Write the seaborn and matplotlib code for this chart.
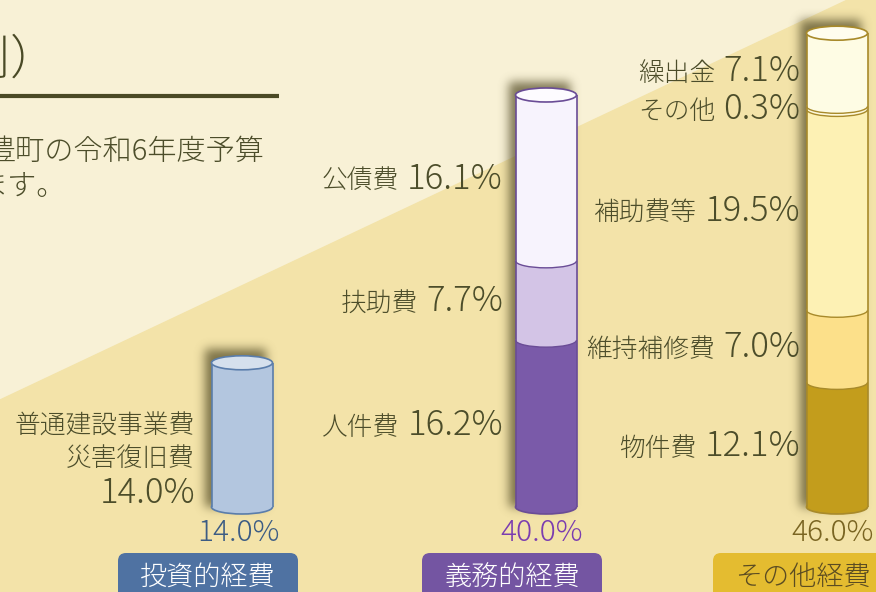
import numpy as np
import pandas as pd
import matplotlib
matplotlib.use("Agg")
import matplotlib.pyplot as plt
import seaborn as sns
from matplotlib.patches import Ellipse, Arc, FancyBboxPatch, Polygon

# 性質別の歳出構成比（%）
groups = ["投資的経費", "義務的経費", "その他経費"]
group_totals = [14.0, 40.0, 46.0]
invest_items = ["普通建設事業費\n災害復旧費"]
invest_values = [14.0]
oblig_items = ["人件費", "扶助費", "公債費"]
oblig_values = [16.2, 7.7, 16.1]
other_items = ["物件費", "維持補修費", "補助費等", "その他", "繰出金"]
other_values = [12.1, 7.0, 19.5, 0.3, 7.1]

W, H = 876, 592
PX_PER_PCT = 10.3   # 1% の高さ (px)
BASE_PX = 507       # 円柱の底の位置 (px)
CYL_W = 61
ELL_H = 14 / PX_PER_PCT

styles = {
    "投資的経費": dict(x=242, colors=["#B3C6DF"], cap="#D5E0ED", edge="#5A7DAB",
                   total_color="#3C5C84", badge="#4F72A2", badge_text="white", label_right=195),
    "義務的経費": dict(x=546, colors=["#7A5AA9", "#D3C4E6", "#F7F3FD"], cap="#FDFBFF", edge="#6A4C96",
                   total_color="#7B3DB0", badge="#7455A2", badge_text="white", label_right=503),
    "その他経費": dict(x=837, colors=["#C39D1C", "#FCE08A", "#FDF1B4", "#FEF9DC", "#FEFCE4"], cap="#FFFDEE",
                   edge="#A88A2A", total_color="#7A6522", badge="#E4BC30", badge_text="#5B4C22", label_right=800),
}
TEXT = "#4C4D2A"

rows = []
for g, items, vals in zip(groups, [invest_items, oblig_items, other_items],
                          [invest_values, oblig_values, other_values]):
    cum = np.cumsum(vals)
    for i, (it, v) in enumerate(zip(items, vals)):
        rows.append(dict(group=g, item=it, value=v, bottom=cum[i] - v, top=cum[i], level=i,
                         x=styles[g]["x"], color=styles[g]["colors"][i]))
df = pd.DataFrame(rows)


def to_px(y):
    return BASE_PX - y * PX_PER_PCT


sns.set_style("white")
plt.rcParams["font.family"] = ["Noto Sans CJK JP", "DejaVu Sans"]
plt.rcParams["font.weight"] = "light"

fig = plt.figure(figsize=(W / 100, H / 100), dpi=100)
bg = fig.add_axes([0, 0, 1, 1])
ax = fig.add_axes([0, 0, 1, 1], zorder=2)
ax.patch.set_alpha(0)

# 背景
bg.add_patch(Polygon([(0, 0), (W, 0), (W, H), (0, H)], closed=True, color="#F8F1D6", zorder=0))
bg.add_patch(Polygon([(0, 400), (W, 400 - 0.472 * W), (W, H), (0, H)], closed=True, color="#F3E3A9", zorder=0.1))

# 円柱の影
mask = np.zeros((H, W))
for g, tot in zip(groups, group_totals):
    x = styles[g]["x"]
    x0, x1 = int(x - CYL_W / 2 - 6), int(x + CYL_W / 2 - 6)
    y0, y1 = int(to_px(tot) - 7 - 6), int(to_px(0))
    mask[max(y0, 0):y1, max(x0, 0):x1] = 1.0
sig = 5
k = np.arange(-3 * sig, 3 * sig + 1)
kern = np.exp(-k ** 2 / (2 * sig ** 2))
kern /= kern.sum()
blur = np.zeros_like(mask)
for off, w in zip(k, kern):
    blur += w * np.roll(mask, off, axis=1)
blur2 = np.zeros_like(blur)
for off, w in zip(k, kern):
    blur2 += w * np.roll(blur, off, axis=0)
rgba = np.zeros((H, W, 4))
rgba[..., 0], rgba[..., 1], rgba[..., 2] = 0.33, 0.30, 0.15
rgba[..., 3] = blur2 * 0.75
bg.imshow(rgba, extent=(0, W, H, 0), aspect="auto", zorder=1, interpolation="bilinear")

# 見出しと説明文
bg.text(58, 60, "（性質別）", ha="right", va="center", fontsize=34, color="#4A4A26", zorder=3)
bg.plot([0, 279], [96, 96], color="#4B4A25", lw=3, solid_capstyle="butt", zorder=3)
bg.text(264, 152, "豊町の令和6年度予算", ha="right", va="center", fontsize=21, color=TEXT, zorder=3)
bg.text(66, 187, "ます。", ha="right", va="center", fontsize=21, color=TEXT, zorder=3)

# ラベルの札
for g in groups:
    s = styles[g]
    bg.add_patch(FancyBboxPatch((s["x"] - 124, 553), 180, 60, boxstyle="round,pad=0,rounding_size=8",
                                fc=s["badge"], ec="none", zorder=3))
    bg.text(s["x"] - 34, 577, g, ha="center", va="center", fontsize=19.5, color=s["badge_text"], zorder=4)

bg.set_xlim(0, W)
bg.set_ylim(H, 0)
bg.axis("off")

# 円柱本体（上の区分から順に重ねる）
order = df["item"].tolist()[::-1]
palette = dict(zip(df["item"], df["color"]))
xs = sorted(df["x"].unique())
sns.barplot(data=df, x="x", y="top", hue="item", hue_order=order, palette=palette,
            native_scale=True, dodge=False, width=CYL_W / np.diff(xs).min(), errorbar=None,
            legend=False, saturation=1, linewidth=0, orient="x", ax=ax)

for g, tot in zip(groups, group_totals):
    s = styles[g]
    sub = df[df["group"] == g]
    x = s["x"]
    # 底
    ax.add_patch(Ellipse((x, 0), CYL_W, ELL_H, fc=sub["color"].iloc[0], ec=s["edge"], lw=1.2, zorder=0.9))
    # 区分の境目
    for _, r in sub.iloc[1:].iterrows():
        ax.add_patch(Ellipse((x, r["bottom"]), CYL_W, ELL_H, fc=r["color"], ec="none", zorder=2))
        ax.add_patch(Arc((x, r["bottom"]), CYL_W, ELL_H, theta1=180, theta2=360, ec=s["edge"], lw=1.0, zorder=3))
    ax.vlines([x - CYL_W / 2, x + CYL_W / 2], 0, tot, color=s["edge"], lw=1.2, zorder=3)
    # 上面
    ax.add_patch(Ellipse((x, tot), CYL_W, ELL_H, fc=s["cap"], ec=s["edge"], lw=1.2, zorder=4))
    # 合計
    ax.annotate(f"{tot:.1f}%", (x - 4, 0), xytext=(0, -26), textcoords="offset pixels",
                ha="center", va="center", fontsize=21.5, color=s["total_color"])

ax.set_xlim(0, W)
ax.set_ylim((BASE_PX - H) / PX_PER_PCT, BASE_PX / PX_PER_PCT)
ax.axis("off")

# 区分ラベル
renderer = fig.canvas.get_renderer()
for _, r in df.iterrows():
    s = styles[r["group"]]
    mid = r["bottom"] + r["value"] / 2
    num = f"{r['value']:.1f}%"
    if "\n" in r["item"]:
        lines = r["item"].split("\n")
        ax.annotate(num, (s["label_right"], mid), xytext=(0, -58), textcoords="offset pixels",
                    ha="right", va="center", fontsize=25, color=TEXT)
        for j, ln in enumerate(lines):
            ax.annotate(ln, (s["label_right"], mid), xytext=(0, 8 - 32 * j), textcoords="offset pixels",
                        ha="right", va="center", fontsize=18.5, color=TEXT)
        continue
    t = ax.annotate(num, (s["label_right"], mid), xytext=(0, -11), textcoords="offset pixels",
                    ha="right", va="baseline", fontsize=25, color=TEXT)
    bb = t.get_window_extent(renderer)
    ax.annotate(r["item"], (bb.x0 - 8, mid), xytext=(0, -11), textcoords="offset pixels",
                ha="right", va="baseline", fontsize=18.5, color=TEXT)

fig.savefig("out.png", dpi=100)
